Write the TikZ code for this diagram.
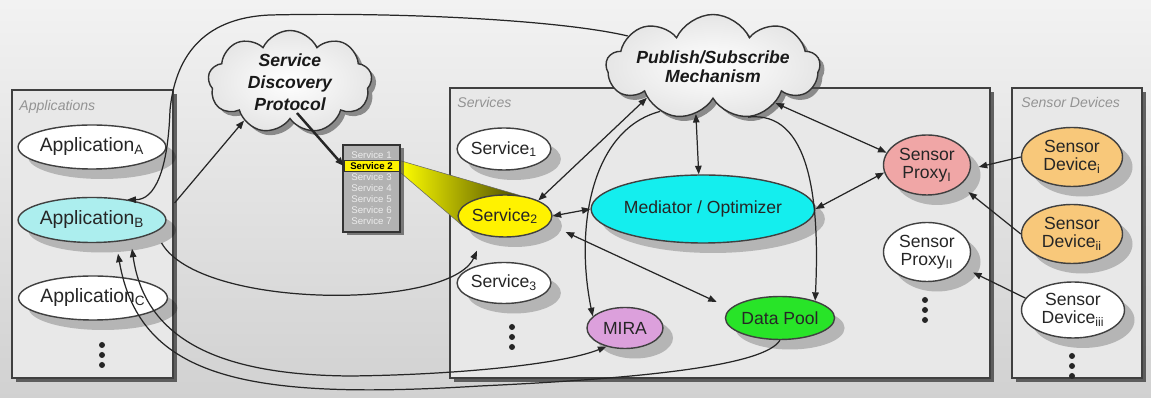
\documentclass[tikz,border=0pt]{standalone}
\usepackage{fontspec}
\setmainfont{Liberation Sans}
\usepackage{tikz}
\usetikzlibrary{positioning, arrows.meta, shapes.geometric, shapes.symbols, shadows}
\definecolor{appcyan}{RGB}{172,238,238}
\definecolor{medcyan}{RGB}{20,238,238}
\definecolor{miraplum}{RGB}{220,160,220}
\definecolor{poolgreen}{RGB}{40,228,40}
\definecolor{proxyred}{RGB}{240,166,166}
\definecolor{devorange}{RGB}{248,200,122}
\definecolor{panelgray}{RGB}{232,232,232}
\pgfdeclarelayer{back}
\pgfdeclarelayer{mid}
\pgfsetlayers{back,mid,main}

\begin{document}
\begin{tikzpicture}[x=0.2mm, y=-0.2mm,
      comp/.style={ellipse, draw=black!75, line width=0.8pt, inner sep=0pt, align=center, text=black!85,
        font=\fontsize{10}{10.5}\selectfont,
        drop shadow={shadow xshift=2mm, shadow yshift=-2mm, fill=black, opacity=0.22}},
      appl/.style={comp, minimum width=24mm, minimum height=8.8mm, font=\fontsize{11}{12}\selectfont},
      panel/.style={draw=black!75, line width=1pt, fill=panelgray,
        drop shadow={shadow xshift=0.8mm, shadow yshift=-0.8mm, fill=black!75, opacity=0.8}},
      plabel/.style={inner sep=0pt, text=gray!85, font=\fontsize{8}{9}\selectfont\itshape},
      proto/.style={cloud, cloud puffs=9, cloud puff arc=130, cloud ignores aspect, draw=black!80,
        line width=0.8pt, inner color=white, outer color=gray!20, inner sep=0pt, align=center,
        text=black!90, font=\fontsize{10}{12.5}\selectfont\bfseries\itshape,
        drop shadow={shadow xshift=0.9mm, shadow yshift=-0.9mm, fill=black!70, opacity=0.6}},
      srvrow/.style={inner sep=0pt, minimum width=11mm, minimum height=2.1mm, text=white!85!gray,
        font=\fontsize{5.5}{6}\selectfont},
      arr/.style={->, >={Triangle[length=1.7mm, width=1.3mm]}, line width=0.7pt, black!85},
      both/.style={arr, <->}
  ]
  \begin{pgfonlayer}{back}
    \fill[top color=gray!10, bottom color=gray!36] (0,0) rectangle (1151,398);
    \node[panel, minimum width=32.2mm, minimum height=57.6mm] (apps) at (92.5,234) {};
    \node[panel, minimum width=108mm, minimum height=58mm] (services) at (720,233) {};
    \node[panel, minimum width=26mm, minimum height=58mm] (sensors) at (1077,233) {};
  \end{pgfonlayer}
  \useasboundingbox (0,0) rectangle (1151,398);

  \node[plabel, below right=2.2mm and 1.6mm of apps.north west] (appslbl) {Applications};
  \node[plabel, below right=2mm and 1.6mm of services.north west] (srvlbl) {Services};
  \node[plabel, below right=2mm and 2mm of sensors.north west] (senslbl) {Sensor Devices};

  \node[appl, fill=white] (appA) at (92,147) {Application\textsubscript{A}};
  \node[appl, fill=appcyan, minimum height=9mm] (appB) at (92,220) {Application\textsubscript{B}};
  \node[appl, fill=white] (appC) at (93,298) {Application\textsubscript{C}};

  \node[proto, minimum width=32.8mm, minimum height=20.6mm] (sdp) at (290,82) {Service\\Discovery\\Protocol};
  \node[proto, minimum width=38.8mm, minimum height=21mm, font=\fontsize{10}{11}\selectfont\bfseries\itshape]
    (pubsub) at (713,67) {Publish/Subscribe\\Mechanism};

  \node[draw=black!80, line width=0.8pt, fill=gray!60, minimum width=11.4mm, minimum height=17.4mm,
    drop shadow={shadow xshift=0.7mm, shadow yshift=-0.7mm, fill=black!70, opacity=0.7}] (list) at (371.5,188.5) {};
  \foreach \i in {1,3,4,5,6,7}
    \node[srvrow] (row\i) at (371.5,{144+11*\i}) {Service \i};
  \node[srvrow, fill=yellow, draw=black!80, text=black, font=\fontsize{5.5}{6}\selectfont\bfseries] (row2) at (371.5,166) {Service 2};

  \node[comp, fill=white, minimum width=15.6mm, minimum height=8.4mm] (srv1) at (504,149) {Service\textsubscript{1}};
  \node[comp, fill=yellow, minimum width=16mm, minimum height=8.4mm] (srv2) at (505,216) {Service\textsubscript{2}};
  \node[comp, fill=white, minimum width=16.4mm, minimum height=8.2mm] (srv3) at (504,283) {Service\textsubscript{3}};
  \node[comp, fill=miraplum, minimum width=15.2mm, minimum height=8.2mm] (mira) at (625,328) {MIRA};
  \node[comp, fill=medcyan, minimum width=37.4mm, minimum height=13.6mm] (mediator) at (703,209) {Mediator / Optimizer};
  \node[comp, fill=poolgreen, minimum width=20mm, minimum height=8.6mm] (dpool) at (780,318) {Data Pool};
  \node[comp, fill=proxyred, minimum width=17.4mm, minimum height=12mm] (proxyI) at (927,165) {Sensor\\Proxy\textsubscript{I}};
  \node[comp, fill=white, minimum width=17.4mm, minimum height=11.8mm] (proxyII) at (927,252) {Sensor\\Proxy\textsubscript{II}};
  \node[comp, fill=devorange, minimum width=20.2mm, minimum height=11.8mm] (devI) at (1072,157) {Sensor\\Device\textsubscript{i}};
  \node[comp, fill=devorange, minimum width=20.2mm, minimum height=11.8mm] (devII) at (1072,234) {Sensor\\Device\textsubscript{ii}};
  \node[comp, fill=white, minimum width=20.6mm, minimum height=11.2mm] (devIII) at (1073,310) {Sensor\\Device\textsubscript{iii}};

  \begin{pgfonlayer}{mid}
    \shade[left color=yellow, right color=yellow!30!black, draw=black!60, line width=0.3pt]
      (row2.north east) -- (srv2.55) -- (srv2.193) -- (row2.south east) -- cycle;
  \end{pgfonlayer}

  \foreach \x/\y in {102/355, 512/337, 925/310, 1072/366}
    \foreach \k in {-1,0,1}
      \fill[black!85] (\x,{\y+10*\k}) circle (0.6mm);

  \draw[arr] (pubsub.160) .. controls (560,20) and (400,12) .. (270,15)
    .. controls (200,18) and (175,60) .. (170,110) .. controls (168,170) and (155,200) .. (appB.30);
  \draw[arr] ([xshift=1.6mm,yshift=3.4mm]appB.east) -- (sdp.220);
  \draw[arr, line width=1.4pt] ([xshift=1.4mm,yshift=-6.2mm]sdp.center) -- (row2.west);
  \draw[arr] ([xshift=-1mm,yshift=-4.6mm]appB.east) .. controls (200,310) and (450,310) .. ([xshift=-5.6mm,yshift=-2.6mm]srv2.south);
  \draw[both] (mira.225) .. controls (560,365) and (450,375) .. (350,376)
    .. controls (220,375) and (145,340) .. ([xshift=8mm,yshift=-1.1mm]appB.south);
  \draw[arr] (dpool.south) .. controls (765,365) and (650,378) .. (480,386)
    .. controls (250,400) and (140,380) .. ([xshift=5.2mm,yshift=-2.1mm]appB.south);
  \draw[both] (srv2.25) -- (pubsub.205);
  \draw[both] (srv2.east) -- (mediator.west);
  \draw[both] ([xshift=2.6mm,yshift=-3.2mm]srv2.east) -- ([xshift=-1.6mm,yshift=3.2mm]dpool.west);
  \draw[both] (pubsub.250) -- (mediator.97);
  \draw[arr] (pubsub.220) .. controls (590,130) and (575,230) .. (mira.160);
  \draw[arr] (pubsub.-55) .. controls (810,110) and (820,200) .. (dpool.26);
  \draw[both] (pubsub.-30) -- (proxyI.163);
  \draw[both] (mediator.east) -- (proxyI.190);
  \draw[arr] (devI.west) -- ([xshift=1.5mm,yshift=-0.4mm]proxyI.east);
  \draw[arr] (devII.west) -- ([xshift=1.5mm,yshift=-1.5mm]proxyI.-30);
  \draw[arr] (devIII.166) -- ([xshift=1.8mm,yshift=-0.8mm]proxyII.-24);
\end{tikzpicture}
\end{document}
